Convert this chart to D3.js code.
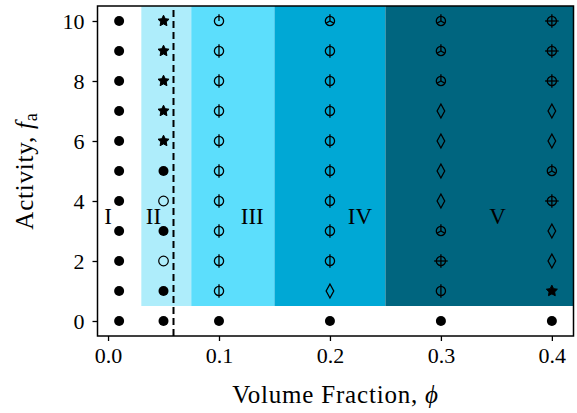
<!DOCTYPE html>
<html>
<head>
<meta charset="utf-8">
<script src="https://cdn.jsdelivr.net/npm/d3@7"></script>
<style>
  body { margin: 0; background: #fff; }
  text { font-family: "Liberation Serif", "DejaVu Serif", serif; }
</style>
</head>
<body>
<div id="chart"></div>
<script>
// volume fractions (columns) and activities (rows)
const phiValues = [0.01, 0.05, 0.1, 0.2, 0.3, 0.4];
const activityValues = [0, 1, 2, 3, 4, 5, 6, 7, 8, 9, 10];

// marker code for each column, from fa = 0 up to fa = 10
const states001 = ["dot", "dot", "dot", "dot", "dot", "dot", "dot", "dot", "dot", "dot", "dot"];
const states005 = ["dot", "dot", "open", "dot", "open", "dot", "star", "star", "star", "star", "star"];
const states010 = ["dot", "spoke2", "spoke2", "spoke2", "spoke2", "spoke2", "spoke2", "spoke2", "spoke2", "spoke2", "spoke1"];
const states020 = ["dot", "diamond", "spoke2", "spoke2", "spoke2", "spoke2", "spoke2", "spoke2", "spoke2", "spoke2", "spoke3"];
const states030 = ["dot", "spoke2", "spoke4", "spoke3", "diamond", "diamond", "diamond", "diamond", "spoke3", "spoke3", "spoke3"];
const states040 = ["dot", "star", "diamond", "diamond", "spoke4", "spoke3", "diamond", "diamond", "spoke4", "spoke4", "spoke4"];
const columnStates = [states001, states005, states010, states020, states030, states040];

// shaded regions
const regionNames = ["I", "II", "III", "IV", "V"];
const regionStart = [null, 0.03, 0.075, 0.15, 0.25];
const regionEnd = [0.03, 0.075, 0.15, 0.25, null];
const regionColors = [null, "#aeedfb", "#5cdefc", "#00a8d5", "#00657f"];
const regionLabelX = [0.0, 0.041, 0.13, 0.227, 0.351];
const regionLabelY = 3.5;
const regionBottom = 0.5;
const boundaryPhi = 0.059;

const xTicks = [0, 0.1, 0.2, 0.3, 0.4];
const yTicks = [0, 2, 4, 6, 8, 10];

const width = 577, height = 413;
const margin = { left: 97.5, right: 3.5, top: 6, bottom: 77 };

const svg = d3.select("#chart").append("svg")
  .attr("width", width)
  .attr("height", height);

const x = d3.scaleLinear()
  .domain([-0.0095, 0.4195])
  .range([margin.left, width - margin.right]);
const y = d3.scaleLinear()
  .domain([-0.5, 10.5])
  .range([height - margin.bottom, margin.top]);

const [x0, x1] = x.range();
const [yb, yt] = y.range();

// background regions
regionNames.forEach((name, i) => {
  if (!regionColors[i]) return;
  const a = regionStart[i] == null ? x0 : x(regionStart[i]);
  const b = regionEnd[i] == null ? x1 : x(regionEnd[i]);
  svg.append("rect")
    .attr("x", a)
    .attr("y", yt)
    .attr("width", b - a)
    .attr("height", y(regionBottom) - yt)
    .attr("fill", regionColors[i]);
});

// dashed boundary
svg.append("line")
  .attr("x1", x(boundaryPhi)).attr("x2", x(boundaryPhi))
  .attr("y1", yb).attr("y2", yt)
  .attr("stroke", "#000")
  .attr("stroke-width", 2)
  .attr("stroke-dasharray", "7,4");

// region labels
svg.selectAll(".region-label")
  .data(regionNames)
  .enter()
  .append("text")
  .attr("class", "region-label")
  .attr("x", (d, i) => x(regionLabelX[i]))
  .attr("y", y(regionLabelY))
  .attr("dy", "0.35em")
  .attr("text-anchor", "middle")
  .attr("font-size", 23)
  .text((d) => d);

// markers
const spokeAngles = {
  spoke1: [-90],
  spoke2: [-90, 90],
  spoke3: [-90, 30, 150],
  spoke4: [-90, 0, 90, 180],
};

const starPath = (r, inner) => {
  const pts = [];
  for (let k = 0; k < 10; k++) {
    const rr = k % 2 === 0 ? r : r * inner;
    const a = -Math.PI / 2 + (k * Math.PI) / 5;
    pts.push([rr * Math.cos(a), rr * Math.sin(a)]);
  }
  return "M" + pts.map((p) => p.join(",")).join("L") + "Z";
};

const points = [];
phiValues.forEach((p, i) => {
  activityValues.forEach((fa, j) => {
    points.push({ phi: p, fa: fa, state: columnStates[i][j] });
  });
});

const marks = svg.selectAll(".mark")
  .data(points)
  .enter()
  .append("g")
  .attr("class", "mark")
  .attr("transform", (d) => `translate(${x(d.phi)},${y(d.fa)})`);

marks.each(function (d) {
  const g = d3.select(this);
  if (d.state === "dot") {
    g.append("circle").attr("r", 5).attr("fill", "#000");
  } else if (d.state === "open") {
    g.append("circle").attr("r", 4.8).attr("fill", "none")
      .attr("stroke", "#000").attr("stroke-width", 1.2);
  } else if (d.state === "star") {
    g.append("path").attr("d", starPath(5.8, 0.5))
      .attr("fill", "#000").attr("stroke", "#000")
      .attr("stroke-width", 1).attr("stroke-linejoin", "round");
  } else if (d.state === "diamond") {
    g.append("path").attr("d", "M0,-7L3.8,0L0,7L-3.8,0Z")
      .attr("fill", "none").attr("stroke", "#000").attr("stroke-width", 1.3);
  } else {
    g.append("circle").attr("r", 4.6).attr("fill", "none")
      .attr("stroke", "#000").attr("stroke-width", 1.3);
    spokeAngles[d.state].forEach((deg) => {
      const a = (deg * Math.PI) / 180;
      const len = deg === -90 || deg === 90 || d.state === "spoke4" ? 6.8 : 4.8;
      g.append("line")
        .attr("x1", 0).attr("y1", 0)
        .attr("x2", len * Math.cos(a)).attr("y2", len * Math.sin(a))
        .attr("stroke", "#000").attr("stroke-width", 1.3);
    });
  }
});

// axes
const xAxis = svg.append("g")
  .attr("transform", `translate(0,${yb})`)
  .call(d3.axisBottom(x).tickValues(xTicks).tickFormat(d3.format(".1f"))
    .tickSize(5).tickSizeOuter(0).tickPadding(6));
const yAxis = svg.append("g")
  .attr("transform", `translate(${x0},0)`)
  .call(d3.axisLeft(y).tickValues(yTicks).tickFormat(d3.format("d"))
    .tickSize(5).tickSizeOuter(0).tickPadding(8));

[xAxis, yAxis].forEach((ax) => {
  ax.select(".domain").remove();
  ax.selectAll(".tick line").attr("stroke", "#000").attr("stroke-width", 1.3);
  ax.selectAll(".tick text")
    .attr("fill", "#000")
    .attr("font-size", 22)
    .style("font-family", '"Liberation Serif", serif');
});

// frame
svg.append("rect")
  .attr("x", x0).attr("y", yt)
  .attr("width", x1 - x0).attr("height", yb - yt)
  .attr("fill", "none").attr("stroke", "#000").attr("stroke-width", 1.5);

// axis titles
const xLabel = svg.append("text")
  .attr("x", (x0 + x1) / 2)
  .attr("y", 403)
  .attr("text-anchor", "middle")
  .attr("font-size", 25)
  .attr("letter-spacing", 0.8);
xLabel.append("tspan").text("Volume Fraction, ");
xLabel.append("tspan").attr("font-style", "italic").text("ϕ");

const yLabel = svg.append("text")
  .attr("transform", `translate(33,${(yt + yb) / 2}) rotate(-90)`)
  .attr("text-anchor", "middle")
  .attr("font-size", 25)
  .attr("letter-spacing", 0.8);
yLabel.append("tspan").text("Activity, ");
yLabel.append("tspan").attr("font-style", "italic").text("f");
yLabel.append("tspan").attr("font-size", 18).attr("dy", 4).text("a");
</script>
</body>
</html>
